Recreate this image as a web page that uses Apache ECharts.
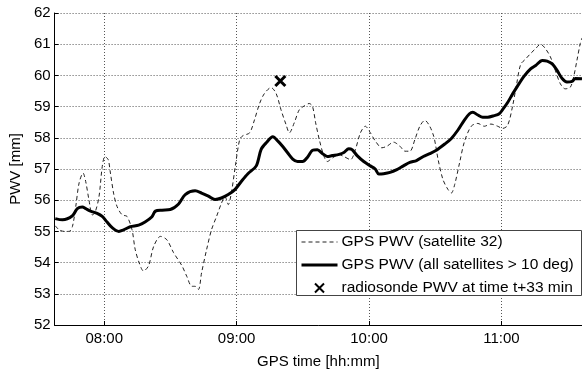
<!DOCTYPE html>
<html><head><meta charset="utf-8">
<script src="https://cdn.jsdelivr.net/npm/echarts@6/dist/echarts.min.js"></script>
<style>html,body{margin:0;padding:0;background:#fff}#c{width:582px;height:374px}</style>
</head><body><div id="c"></div>
<script>
// times in minutes after midnight
var allTimes = [457.8,461.1,465.6,467.8,470.1,471.6,473.8,476.8,479.1,481.3,483.6,486.6,488.8,491.8,495.6,498.5,501.5,503.2,506.2,509.9,513.7,516.7,521.2,524.1,527.2,530.2,533.1,536.2,539.2,542.1,545.1,548.9,551.1,553.4,556.4,558.6,560.9,563.1,565.4,567.6,569.9,572.1,574.4,576.6,578.8,581.1,583.3,586.4,588.6,590.8,592.3,594.6,597.6,600.6,602.8,604.4,606.6,609.5,612.6,615.6,618.5,621.5,624.6,627.5,630.5,634.3,637.3,640.3,643.2,645.5,647.0,649.3,651.5,653.8,656.7,659.0,660.5,662.8,665.0,667.2,670.2,673.2,675.5,678.5,680.7,683.0,685.2,687.5,689.7,692.0,693.5,696.5];
var allValues = [55.41,55.37,55.5,55.73,55.78,55.73,55.65,55.58,55.48,55.3,55.12,55.0,55.05,55.15,55.2,55.3,55.46,55.65,55.68,55.7,55.88,56.18,56.3,56.23,56.13,56.02,56.07,56.18,56.34,56.6,56.85,57.1,57.63,57.84,58.03,57.9,57.72,57.52,57.32,57.24,57.24,57.38,57.6,57.62,57.5,57.4,57.43,57.47,57.53,57.65,57.62,57.43,57.24,57.1,57.0,56.84,56.85,56.89,56.98,57.1,57.21,57.27,57.4,57.49,57.6,57.8,57.98,58.25,58.57,58.77,58.82,58.73,58.66,58.66,58.71,58.77,58.9,59.13,59.4,59.65,59.97,60.21,60.32,60.48,60.46,60.37,60.16,59.9,59.79,59.81,59.9,59.89];
var satTimes = [457.8,459.6,461.9,464.1,465.6,467.1,468.6,470.4,471.6,473.1,474.6,475.8,477.6,479.1,480.3,481.8,482.8,484.3,485.8,488.1,490.3,492.6,494.0,495.8,497.8,500.1,502.4,505.5,508.4,511.4,515.2,517.4,519.7,521.2,522.7,524.1,526.4,528.6,530.9,533.1,534.7,536.2,537.6,539.4,541.4,542.9,545.9,548.1,550.4,552.6,555.6,557.9,560.1,562.4,563.9,566.1,568.4,570.6,572.9,574.4,575.8,577.6,579.6,581.1,583.3,586.4,588.6,591.6,593.8,596.1,598.3,600.6,602.8,605.8,608.1,611.1,614.0,616.3,618.5,620.8,623.0,625.3,627.5,629.3,630.2,631.3,633.5,635.8,637.3,638.8,641.0,643.2,646.3,649.3,652.2,655.2,658.3,660.5,662.8,665.0,666.9,668.7,671.0,673.2,675.5,677.7,679.9,682.2,684.4,686.7,688.9,691.2,692.7,694.2,695.7,696.5];
var satValues = [55.18,55.05,55.0,55.0,55.16,55.8,56.55,56.87,56.6,56.0,55.53,55.6,56.1,57.08,57.4,57.3,56.87,56.2,55.8,55.53,55.48,55.05,54.43,54.0,53.73,53.9,54.52,54.84,54.73,54.32,53.9,53.56,53.24,53.24,53.14,53.67,54.42,55.05,55.48,55.9,56.12,55.86,56.23,57.09,57.95,58.07,58.16,58.58,59.1,59.42,59.61,59.42,58.9,58.42,58.16,58.48,58.9,59.02,59.1,59.0,58.48,57.9,57.4,57.24,57.35,57.46,57.4,57.3,57.62,58.16,58.37,58.16,57.9,57.68,57.73,57.86,57.73,57.57,57.57,57.95,58.37,58.56,58.37,58.05,57.75,57.3,56.66,56.34,56.23,56.5,57.19,57.87,58.37,58.46,58.37,58.44,58.37,58.3,58.4,59.0,59.73,60.35,60.53,60.7,60.86,61.0,60.86,60.59,60.16,59.73,59.57,59.62,59.95,60.48,61.02,61.2];
var sondeTimes = [559.8];
var sondeValues = [59.82];
var xTicks = [480, 540, 600, 660];
var yMin = 52, yMax = 62;
var xMin = 457.5, xMax = 696.5;
var names = ['GPS PWV (satellite 32)', 'GPS PWV (all satellites > 10 deg)', 'radiosonde PWV at time t+33 min'];

function zip(a, b) { return a.map(function (t, i) { return [t, b[i]]; }); }
function fmt(v) { var h = Math.floor(v / 60), m = Math.round(v % 60); return (h < 10 ? '0' : '') + h + ':' + (m < 10 ? '0' : '') + m; }

var FONT = 'Liberation Sans, Arial, Helvetica, sans-serif';
var chart = echarts.init(document.getElementById('c'), null, { renderer: 'canvas' });
chart.setOption({
  animation: false,
  backgroundColor: '#fff',
  textStyle: { fontFamily: FONT },
  grid: { left: 50, right: 0, top: 13, bottom: 48, containLabel: false },
  xAxis: {
    type: 'value', min: xMin, max: xMax,
    name: 'GPS time [hh:mm]', nameLocation: 'middle', nameGap: 29,
    nameTextStyle: { fontSize: 15, color: '#000', fontFamily: FONT },
    axisLine: { lineStyle: { color: '#000', width: 1 } },
    axisTick: { inside: true, length: 4, lineStyle: { color: '#000' }, customValues: xTicks },
    axisLabel: { customValues: xTicks, formatter: fmt, fontSize: 15, color: '#000', margin: 6, fontFamily: FONT },
    splitLine: { show: true, lineStyle: { color: '#555', type: [1, 2], width: 1 } }
  },
  yAxis: {
    type: 'value', min: yMin, max: yMax, interval: 1,
    name: 'PWV [mm]', nameLocation: 'middle', nameGap: 23,
    nameTextStyle: { fontSize: 15, color: '#000', fontFamily: FONT },
    axisLine: { show: true, lineStyle: { color: '#000', width: 1 } },
    axisTick: { show: true, inside: true, length: 4, lineStyle: { color: '#000' } },
    axisLabel: { fontSize: 15, color: '#000', margin: 4, fontFamily: FONT },
    splitLine: { show: true, lineStyle: { color: '#555', type: [1, 2], width: 1 } }
  },
  legend: {
    orient: 'vertical', left: 300, top: 234,
    itemWidth: 36, itemHeight: 9, itemGap: 7, padding: 0,
    textStyle: { fontSize: 15.5, color: '#000', fontFamily: FONT, padding: [0, 0, 0, -1] },
    data: [
      { name: names[0], itemStyle: { opacity: 0 }, lineStyle: { width: 1 } },
      { name: names[1], itemStyle: { opacity: 0 }, lineStyle: { width: 3 } },
      { name: names[2] }
    ]
  },
  graphic: [{
    type: 'rect', left: 296, top: 230, z: 3,
    shape: { width: 285, height: 65 },
    style: { fill: '#fff', stroke: '#444', lineWidth: 1 }
  }],
  series: [
    { name: names[0], type: 'line', data: zip(satTimes, satValues), showSymbol: false, symbol: 'none', smooth: 0.3,
      lineStyle: { color: '#222', width: 1, type: [4, 3] }, itemStyle: { color: '#222' }, z: 2 },
    { name: names[1], type: 'line', data: zip(allTimes, allValues), showSymbol: false, symbol: 'none', smooth: 0.3,
      lineStyle: { color: '#000', width: 3 }, itemStyle: { color: '#000' }, z: 2 },
    { name: names[2], type: 'scatter', data: zip(sondeTimes, sondeValues), symbol: 'path://M0,0L10,10M10,0L0,10',
      symbolSize: 10, symbolKeepAspect: true,
      itemStyle: { color: 'none', borderColor: '#000', borderWidth: 3, opacity: 1 }, z: 2 }
  ]
});
</script></body></html>
